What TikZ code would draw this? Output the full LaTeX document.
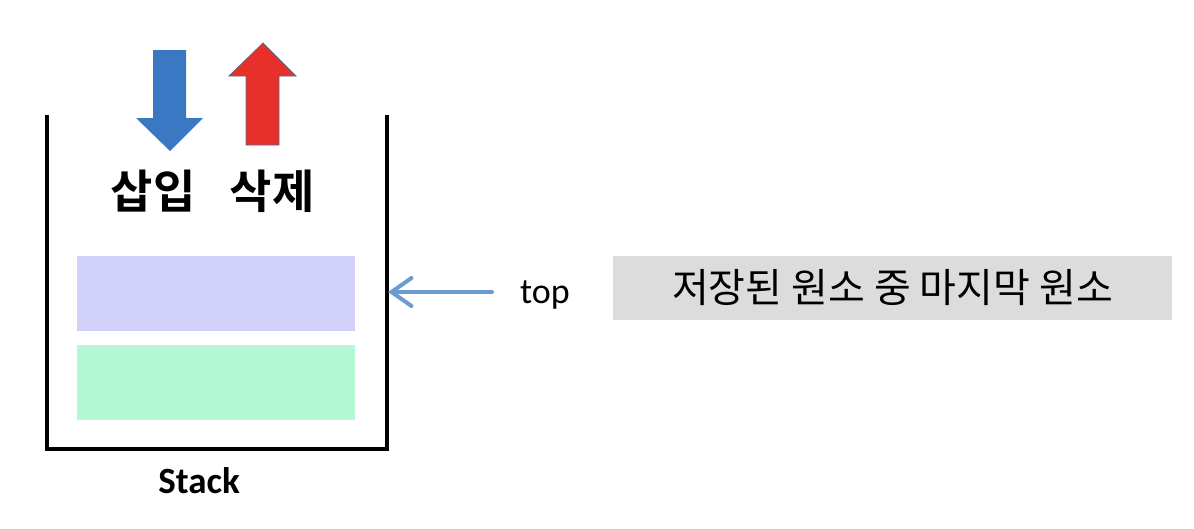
\documentclass[tikz,border=0pt]{standalone}
\usepackage{fontspec}
\setmainfont{Carlito}
\newfontfamily\krfont{Noto Sans CJK KR}[BoldFont={Noto Sans CJK KR Bold}]
\usetikzlibrary{arrows.meta}

\definecolor{pushblue}{HTML}{3A78C4}
\definecolor{popred}{HTML}{E8302A}
\definecolor{popedge}{HTML}{5A6A86}
\definecolor{topcell}{HTML}{D0D0F8}
\definecolor{lowcell}{HTML}{B3F8D3}
\definecolor{pointer}{HTML}{6E9BCF}
\definecolor{notebox}{HTML}{DCDCDC}

\begin{document}
\begin{tikzpicture}[x=1pt, y=-1pt,
    wall/.style ={line width=4pt, line cap=rect, line join=miter},
    oplabel/.style ={font=\krfont\bfseries\fontsize{46}{50}\selectfont, inner sep=0pt},
    caption/.style ={font=\bfseries\fontsize{37}{40}\selectfont, inner sep=0pt}]
   \useasboundingbox (0,0) rectangle (1194,528);

   % stack container
   \draw[wall] (47,117) -- (47,449) -- (387,449) -- (387,117);
   \fill[topcell] (77,256) rectangle (355,331);
   \fill[lowcell] (77,345) rectangle (355,420);

   % push / pop arrows
   \fill[pushblue] (153,50) -- (186,50) -- (186,118) -- (203,118)
      -- (170,151) -- (136,118) -- (153,118) -- cycle;
   \filldraw[fill=popred, draw=popedge, line width=0.8pt] (246,145) -- (279,145)
      -- (279,76) -- (296,76) -- (263,43) -- (229,76) -- (246,76) -- cycle;

   \node[oplabel] (push) at (153,191) {삽입};
   \node[oplabel] (pop)  at (272,191) {삭제};
   \node[caption] (stack) at (199,481) {Stack};

   % top pointer
   \coordinate (wallR) at (388,292);
   \node[font=\fontsize{36}{40}\selectfont, inner sep=0pt] (top) at (545,295) {top};
   \draw[pointer, line width=4pt, line cap=round,
     -{Straight Barb[length=20pt, width=28pt, line cap=round]}] (492,292) -- (wallR);

   \node[fill=notebox, minimum width=559pt, minimum height=64pt,
     font=\krfont\fontsize{40}{44}\selectfont] (note) at (892.5,288) {저장된 원소 중 마지막 원소};
 \end{tikzpicture}
\end{document}
